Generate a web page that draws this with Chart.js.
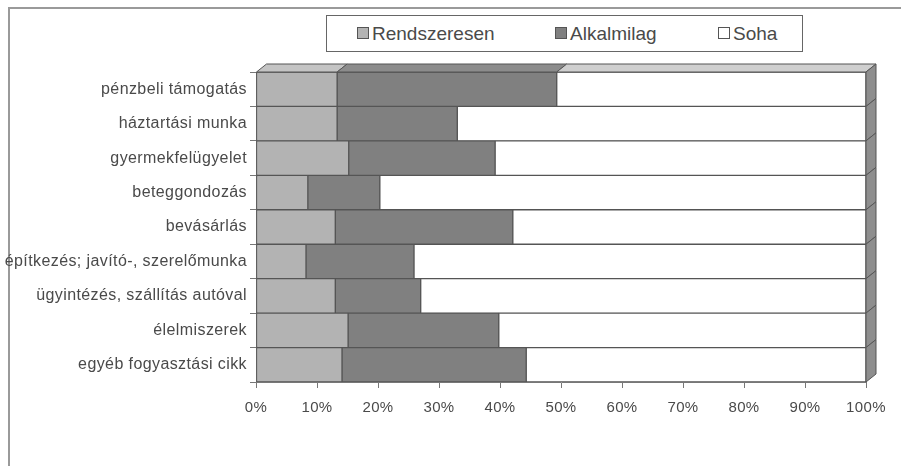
<!DOCTYPE html>
<html>
<head>
<meta charset="utf-8">
<script src="https://cdn.jsdelivr.net/npm/chart.js@4"></script>
<style>
  body { margin: 0; background: #fff; }
  #wrap { position: relative; width: 901px; height: 466px; overflow: hidden; font-family: "Liberation Sans", Arial, sans-serif; }
  #frame { position: absolute; left: 8px; top: 7px; width: 900px; height: 470px; border: 2px solid #9a9a9a; box-sizing: border-box; }
  #legend { position: absolute; left: 326px; top: 15px; width: 477px; height: 37px; border: 1px solid #666; box-sizing: border-box; background: #fff; }
  .item { position: absolute; top: 7px; font-size: 19px; color: #4a4a4a; line-height: 22px; white-space: nowrap; }
  .sw { display: inline-block; width: 10px; height: 10px; border: 1px solid #555; margin-right: 3px; vertical-align: 1px; }
  canvas { position: absolute; left: 0; top: 0; }
</style>
</head>
<body>
<div id="wrap">
  <div id="frame"></div>
  <canvas id="c" width="901" height="466"></canvas>
  <div id="legend"></div>
</div>
<script>
const categories = [
  'pénzbeli támogatás',
  'háztartási munka',
  'gyermekfelügyelet',
  'beteggondozás',
  'bevásárlás',
  'építkezés; javító-, szerelőmunka',
  'ügyintézés, szállítás autóval',
  'élelmiszerek',
  'egyéb fogyasztási cikk'
];
const rendszeresen = [13.3, 13.3, 15.2, 8.5, 13.0, 8.2, 13.0, 15.1, 14.1];
const alkalmilag   = [36.0, 19.7, 24.0, 11.8, 29.1, 17.7, 14.0, 24.7, 30.2];
const soha         = [50.7, 67.0, 60.8, 79.7, 57.9, 74.1, 73.0, 60.2, 55.7];
const xTicks = [0, 10, 20, 30, 40, 50, 60, 70, 80, 90, 100];

const series = [
  { label: 'Rendszeresen', data: rendszeresen, color: '#b3b3b3', top: '#c4c4c4', side: '#a0a0a0', legendLeft: 30 },
  { label: 'Alkalmilag', data: alkalmilag, color: '#808080', top: '#8c8c8c', side: '#707070', legendLeft: 228 },
  { label: 'Soha', data: soha, color: '#ffffff', top: '#cfcfcf', side: '#8e8e8e', legendLeft: 391 }
];

const legend = document.getElementById('legend');
series.forEach(s => {
  const el = document.createElement('div');
  el.className = 'item';
  el.style.left = s.legendLeft + 'px';
  el.innerHTML = `<span class="sw" style="background:${s.color}"></span>${s.label}`;
  legend.appendChild(el);
});

const DX = 10, DY = 8;

// draws the top faces and the right side faces of the "3D" bars
const depth3d = {
  id: 'depth3d',
  beforeDraw(chart) {
    chart.ctx.letterSpacing = '0.4px';
  },
  afterDatasetsDraw(chart) {
    const ctx = chart.ctx;
    ctx.save();
    ctx.lineWidth = 1;
    ctx.strokeStyle = '#555';
    const last = chart.data.datasets.length - 1;
    chart.data.datasets.forEach((ds, di) => {
      const meta = chart.getDatasetMeta(di);
      meta.data.forEach((bar, i) => {
        const p = bar.getProps(['x', 'y', 'base', 'height'], true);
        const top = p.y - p.height / 2, bottom = p.y + p.height / 2;
        if (i === 0) {
          ctx.beginPath();
          ctx.moveTo(p.base, top);
          ctx.lineTo(p.x, top);
          ctx.lineTo(p.x + DX, top - DY);
          ctx.lineTo(p.base + DX, top - DY);
          ctx.closePath();
          ctx.fillStyle = series[di].top;
          ctx.fill();
          ctx.stroke();
        }
        if (di === last) {
          ctx.beginPath();
          ctx.moveTo(p.x, top);
          ctx.lineTo(p.x + DX, top - DY);
          ctx.lineTo(p.x + DX, bottom - DY);
          ctx.lineTo(p.x, bottom);
          ctx.closePath();
          ctx.fillStyle = series[di].side;
          ctx.fill();
          ctx.stroke();
        }
      });
    });
    ctx.restore();
  }
};

new Chart(document.getElementById('c'), {
  type: 'bar',
  data: {
    labels: categories,
    datasets: series.map(s => ({
      label: s.label,
      data: s.data,
      backgroundColor: s.color,
      borderColor: '#555',
      borderWidth: 1,
      borderSkipped: false,
      categoryPercentage: 1,
      barPercentage: 1
    }))
  },
  options: {
    indexAxis: 'y',
    responsive: false,
    animation: false,
    events: [],
    layout: { padding: { top: 72, right: 35, bottom: 44, left: 0 } },
    plugins: { legend: { display: false }, tooltip: { enabled: false } },
    scales: {
      x: {
        stacked: true,
        min: 0,
        max: 100,
        afterBuildTicks: axis => { axis.ticks = xTicks.map(v => ({ value: v })); },
        afterFit: axis => { axis.height = 40; },
        ticks: {
          callback: v => v + '%',
          color: '#4a4a4a',
          font: { family: 'Liberation Sans', size: 15 },
          padding: 11,
          maxRotation: 0
        },
        grid: { drawOnChartArea: false, tickLength: 6, color: '#777' },
        border: { display: true, color: '#777' }
      },
      y: {
        stacked: true,
        afterFit: axis => { axis.width = 256; },
        ticks: {
          color: '#4a4a4a',
          font: { family: 'Liberation Sans', size: 16 },
          padding: 3
        },
        grid: { drawOnChartArea: false, offset: true, tickLength: 6, color: '#777' },
        border: { display: true, color: '#777' }
      }
    }
  },
  plugins: [depth3d]
});
</script>
</body>
</html>
